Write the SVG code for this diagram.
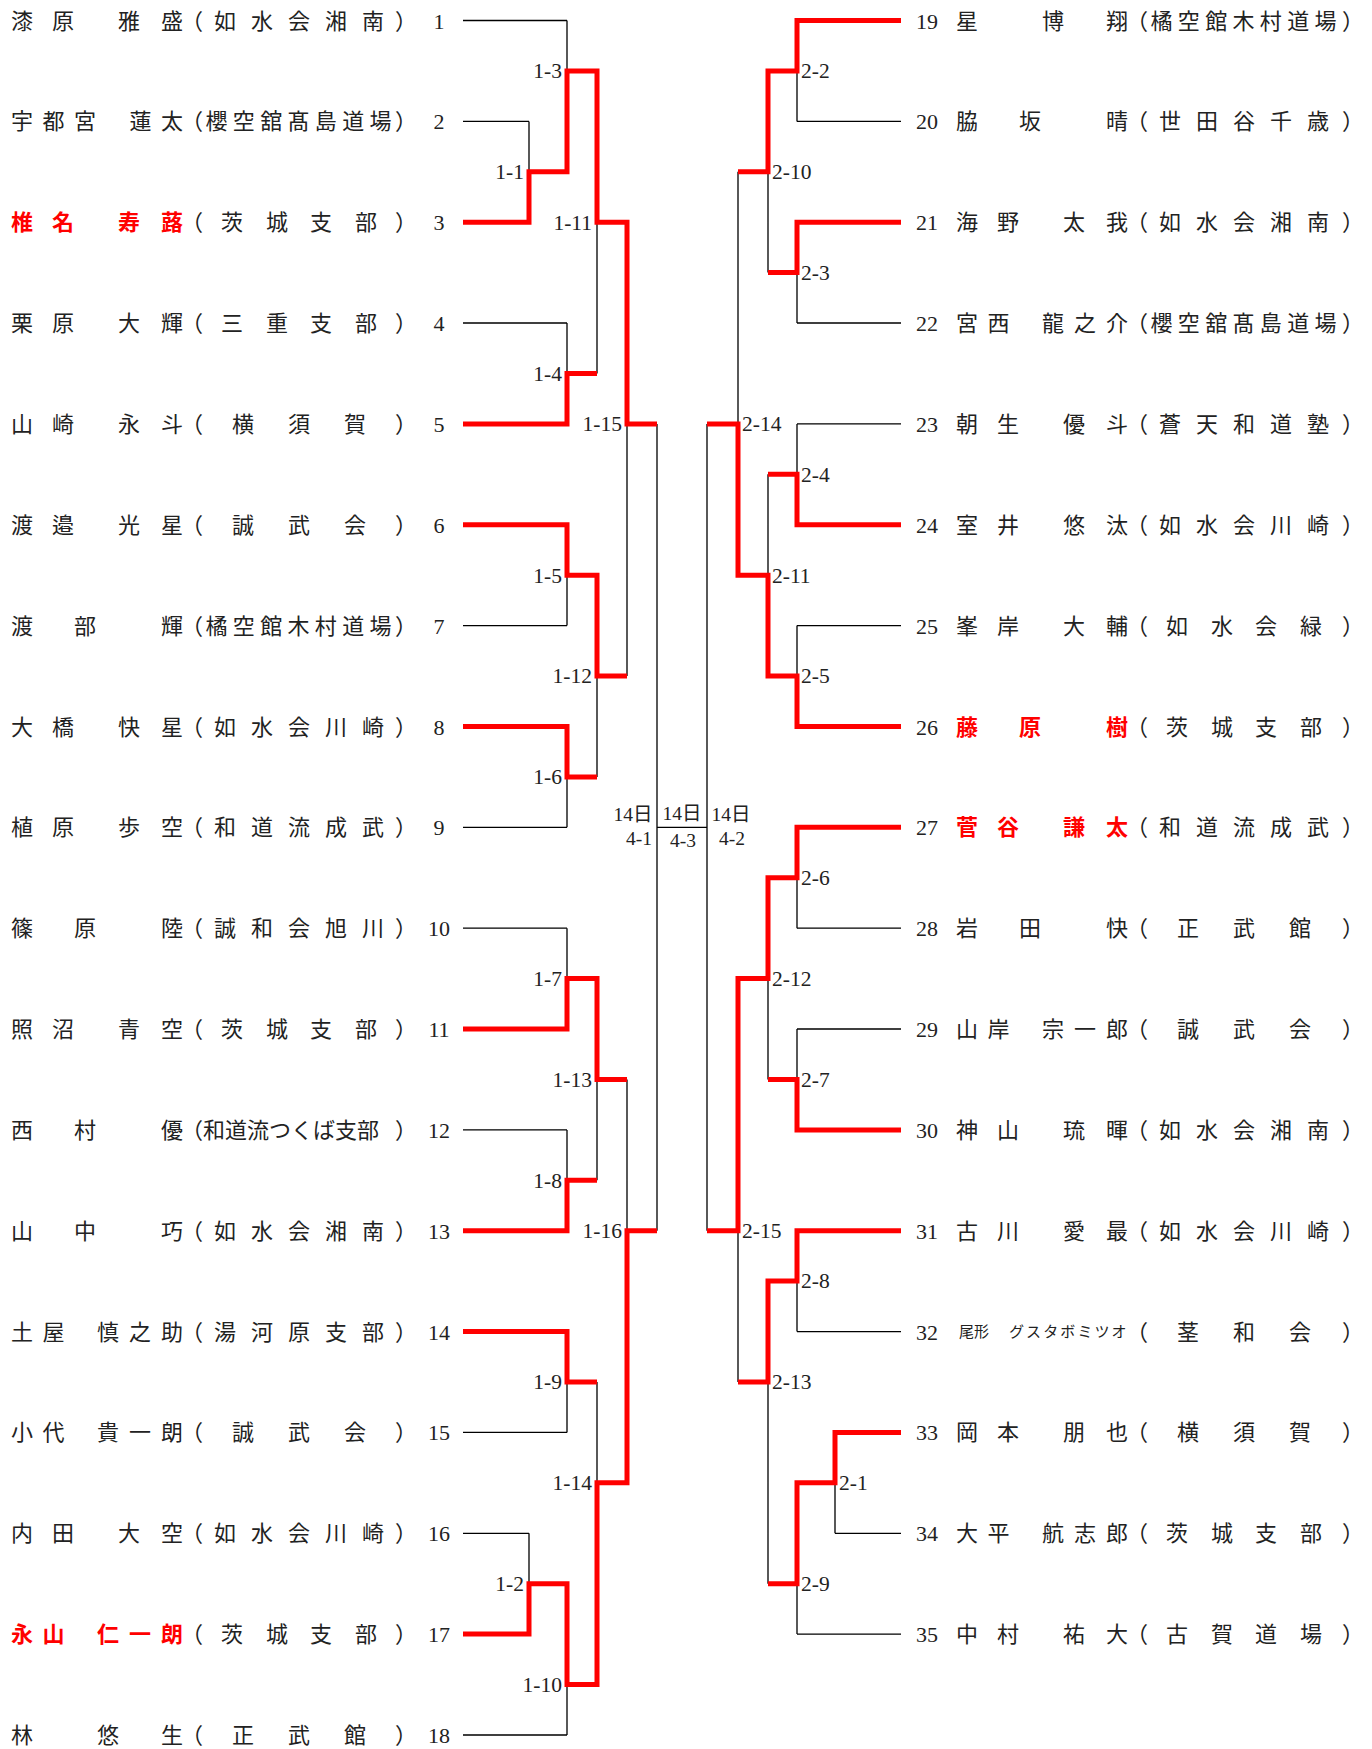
<svg xmlns="http://www.w3.org/2000/svg" width="1372" height="1749" viewBox="0 0 1372 1749">
<style>
text{font-family:"Liberation Serif","Noto Sans CJK JP",serif;fill:#222}
.t{font-size:22px;text-anchor:middle}
.w{fill:#f00;font-weight:bold}
.lb{font-size:21.5px}
.l{text-anchor:end}
.r{text-anchor:start}
.c{font-size:19.5px;text-anchor:middle}
.k{fill:none;stroke:#000;stroke-width:1.3}
.red{fill:none;stroke:#f00;stroke-width:5;stroke-linejoin:miter}
</style>
<rect width="1372" height="1749" fill="#fff"/>
<g id="connectors">
<g class="k">
<path d="M463,20.5H567M463,121.4H529M463,222.2H529M463,323H567M463,423.9H567M463,524.8H567M463,625.6H567M463,726.5H567M463,827.3H567M463,928.2H567M463,1029H567M463,1129.9H567M463,1230.7H567M463,1331.6H567M463,1432.4H567M463,1533.3H529M463,1634.1H529M463,1735H567"/>
<path d="M529,121.4V222.2M529,171.8H567M567,20.5V171.8M567,70.9H597M567,323V423.9M567,373.5H597M597,70.9V373.5M597,222.2H627M567,524.8V625.6M567,575.2H597M567,726.5V827.3M567,776.9H597M597,575.2V776.9M597,676H627M627,222.2V676M627,423.9H657"/>
<path d="M567,928.2V1029M567,978.6H597M567,1129.9V1230.7M567,1180.3H597M597,978.6V1180.3M597,1079.4H627M567,1331.6V1432.4M567,1382H597M529,1533.3V1634.1M529,1583.7H567M567,1583.7V1735M567,1684.5H597M597,1382V1684.5M597,1482.8H627M627,1079.4V1482.8M627,1230.7H657"/>
<path d="M657,423.9V1230.7M657,827.3H707M707,423.9V1230.7"/>
<path d="M901,20.5H797M901,121.4H797M901,222.2H797M901,323H797M901,423.9H797M901,524.8H797M901,625.6H797M901,726.5H797M901,827.3H797M901,928.2H797M901,1029H797M901,1129.9H797M901,1230.7H797M901,1331.6H797M901,1432.4H835M901,1533.3H835M901,1634.1H797"/>
<path d="M797,20.5V121.4M797,70.9H768M797,222.2V323M797,272.6H768M768,70.9V272.6M768,171.8H738M797,423.9V524.8M797,474.3H768M797,625.6V726.5M797,676H768M768,474.3V676M768,575.2H738M738,171.8V575.2M738,423.9H707"/>
<path d="M797,827.3V928.2M797,877.7H768M797,1029V1129.9M797,1079.4H768M768,877.7V1079.4M768,978.6H738M797,1230.7V1331.6M797,1281.1H768M835,1432.4V1533.3M835,1482.8H797M797,1482.8V1634.1M797,1583.7H768M768,1281.1V1583.7M768,1382H738M738,978.6V1382M738,1230.7H707"/>
</g>
<g class="red">
<path d="M463,222.2H529V171.8H567V70.9H597V222.2H627V423.9H657"/>
<path d="M463,423.9H567V373.5H597"/>
<path d="M463,524.8H567V575.2H597V676H627"/>
<path d="M463,726.5H567V776.9H597"/>
<path d="M463,1029H567V978.6H597V1079.4H627"/>
<path d="M463,1230.7H567V1180.3H597"/>
<path d="M463,1331.6H567V1382H597"/>
<path d="M463,1634.1H529V1583.7H567V1684.5H597V1482.8H627V1230.7H657"/>
<path d="M901,20.5H797V70.9H768V171.8H738"/>
<path d="M901,222.2H797V272.6H768"/>
<path d="M901,524.8H797V474.3H768"/>
<path d="M901,726.5H797V676H768V575.2H738V423.9H707"/>
<path d="M901,827.3H797V877.7H768V978.6H738V1230.7H707"/>
<path d="M901,1129.9H797V1079.4H768"/>
<path d="M901,1230.7H797V1281.1H768V1382H738"/>
<path d="M901,1432.4H835V1482.8H797V1583.7H768"/>
</g>
<g class="lb">
<text class="l" x="562" y="78">1-3</text>
<text class="l" x="524" y="179">1-1</text>
<text class="l" x="592" y="229.5">1-11</text>
<text class="l" x="562" y="380.7">1-4</text>
<text class="l" x="622" y="431.2">1-15</text>
<text class="l" x="562" y="582.5">1-5</text>
<text class="l" x="592" y="683.2">1-12</text>
<text class="l" x="562" y="784.2">1-6</text>
<text class="l" x="562" y="985.9">1-7</text>
<text class="l" x="592" y="1086.7">1-13</text>
<text class="l" x="562" y="1187.6">1-8</text>
<text class="l" x="622" y="1238">1-16</text>
<text class="l" x="562" y="1389.3">1-9</text>
<text class="l" x="592" y="1490.1">1-14</text>
<text class="l" x="524" y="1591">1-2</text>
<text class="l" x="562" y="1691.8">1-10</text>
<text class="r" x="801" y="78">2-2</text>
<text class="r" x="772" y="179">2-10</text>
<text class="r" x="801" y="279.9">2-3</text>
<text class="r" x="742" y="431.2">2-14</text>
<text class="r" x="801" y="481.6">2-4</text>
<text class="r" x="772" y="582.5">2-11</text>
<text class="r" x="801" y="683.2">2-5</text>
<text class="r" x="801" y="885">2-6</text>
<text class="r" x="772" y="985.9">2-12</text>
<text class="r" x="801" y="1086.7">2-7</text>
<text class="r" x="742" y="1238">2-15</text>
<text class="r" x="801" y="1288.4">2-8</text>
<text class="r" x="772" y="1389.3">2-13</text>
<text class="r" x="839" y="1490.1">2-1</text>
<text class="r" x="801" y="1591">2-9</text>
</g>
<g id="final">
<text class="c" x="633" y="821">14日</text>
<text class="c" x="639" y="845">4-1</text>
<text class="c" x="682" y="820">14日</text>
<text class="c" x="683" y="847">4-3</text>
<text class="c" x="731" y="821">14日</text>
<text class="c" x="732" y="845">4-2</text>
</g>
</g>
<g id="p1"><text class="t" x="22 63 129 172" y="28.5">漆原雅盛</text><text class="t" x="192 225 262 299 336 373 406" y="28.5">（如水会湘南）</text><text class="t" x="439" y="28.5">1</text></g>
<g id="p2"><text class="t" x="22 53.5 85 140.5 172" y="129.4">宇都宮蓮太</text><text class="t" x="192 216.5 243.8 271.2 298.5 325.8 353.2 380.5 406" y="129.4">（櫻空舘髙島道場）</text><text class="t" x="439" y="129.4">2</text></g>
<g id="p3"><text class="t w" x="22 63 129 172" y="230.2">椎名寿蕗</text><text class="t" x="192 232 277 321 366 406" y="230.2">（茨城支部）</text><text class="t" x="439" y="230.2">3</text></g>
<g id="p4"><text class="t" x="22 63 129 172" y="331.1">栗原大輝</text><text class="t" x="192 232 277 321 366 406" y="331.1">（三重支部）</text><text class="t" x="439" y="331.1">4</text></g>
<g id="p5"><text class="t" x="22 63 129 172" y="431.9">山崎永斗</text><text class="t" x="192 243 299 355 406" y="431.9">（横須賀）</text><text class="t" x="439" y="431.9">5</text></g>
<g id="p6"><text class="t" x="22 63 129 172" y="532.8">渡邉光星</text><text class="t" x="192 243 299 355 406" y="532.8">（誠武会）</text><text class="t" x="439" y="532.8">6</text></g>
<g id="p7"><text class="t" x="22 85 172" y="633.6">渡部輝</text><text class="t" x="192 216.5 243.8 271.2 298.5 325.8 353.2 380.5 406" y="633.6">（橘空館木村道場）</text><text class="t" x="439" y="633.6">7</text></g>
<g id="p8"><text class="t" x="22 63 129 172" y="734.5">大橋快星</text><text class="t" x="192 225 262 299 336 373 406" y="734.5">（如水会川崎）</text><text class="t" x="439" y="734.5">8</text></g>
<g id="p9"><text class="t" x="22 63 129 172" y="835.3">植原歩空</text><text class="t" x="192 225 262 299 336 373 406" y="835.3">（和道流成武）</text><text class="t" x="439" y="835.3">9</text></g>
<g id="p10"><text class="t" x="22 85 172" y="936.2">篠原陸</text><text class="t" x="192 225 262 299 336 373 406" y="936.2">（誠和会旭川）</text><text class="t" x="439" y="936.2">10</text></g>
<g id="p11"><text class="t" x="22 63 129 172" y="1037">照沼青空</text><text class="t" x="192 232 277 321 366 406" y="1037">（茨城支部）</text><text class="t" x="439" y="1037">11</text></g>
<g id="p12"><text class="t" x="22 85 172" y="1137.9">西村優</text><text class="t" x="192 214 236 258 280 302 324 346 368 406" y="1137.9">（和道流つくば支部）</text><text class="t" x="439" y="1137.9">12</text></g>
<g id="p13"><text class="t" x="22 85 172" y="1238.7">山中巧</text><text class="t" x="192 225 262 299 336 373 406" y="1238.7">（如水会湘南）</text><text class="t" x="439" y="1238.7">13</text></g>
<g id="p14"><text class="t" x="22 53.5 108 140 172" y="1339.6">土屋慎之助</text><text class="t" x="192 225 262 299 336 373 406" y="1339.6">（湯河原支部）</text><text class="t" x="439" y="1339.6">14</text></g>
<g id="p15"><text class="t" x="22 53.5 108 140 172" y="1440.4">小代貴一朗</text><text class="t" x="192 243 299 355 406" y="1440.4">（誠武会）</text><text class="t" x="439" y="1440.4">15</text></g>
<g id="p16"><text class="t" x="22 63 129 172" y="1541.3">内田大空</text><text class="t" x="192 225 262 299 336 373 406" y="1541.3">（如水会川崎）</text><text class="t" x="439" y="1541.3">16</text></g>
<g id="p17"><text class="t w" x="22 53.5 108 140 172" y="1642.1">永山仁一朗</text><text class="t" x="192 232 277 321 366 406" y="1642.1">（茨城支部）</text><text class="t" x="439" y="1642.1">17</text></g>
<g id="p18"><text class="t" x="22 108 172" y="1743">林悠生</text><text class="t" x="192 243 299 355 406" y="1743">（正武館）</text><text class="t" x="439" y="1743">18</text></g>
<g id="p19"><text class="t" x="927" y="28.5">19</text><text class="t" x="967 1053 1117" y="28.5">星博翔</text><text class="t" x="1137 1161.5 1188.8 1216.2 1243.5 1270.8 1298.2 1325.5 1353" y="28.5">（橘空館木村道場）</text></g>
<g id="p20"><text class="t" x="927" y="129.4">20</text><text class="t" x="967 1030 1117" y="129.4">脇坂晴</text><text class="t" x="1137 1170 1207 1244 1281 1318 1353" y="129.4">（世田谷千歳）</text></g>
<g id="p21"><text class="t" x="927" y="230.2">21</text><text class="t" x="967 1008 1074 1117" y="230.2">海野太我</text><text class="t" x="1137 1170 1207 1244 1281 1318 1353" y="230.2">（如水会湘南）</text></g>
<g id="p22"><text class="t" x="927" y="331.1">22</text><text class="t" x="967 998.5 1053 1085 1117" y="331.1">宮西龍之介</text><text class="t" x="1137 1161.5 1188.8 1216.2 1243.5 1270.8 1298.2 1325.5 1353" y="331.1">（櫻空舘髙島道場）</text></g>
<g id="p23"><text class="t" x="927" y="431.9">23</text><text class="t" x="967 1008 1074 1117" y="431.9">朝生優斗</text><text class="t" x="1137 1170 1207 1244 1281 1318 1353" y="431.9">（蒼天和道塾）</text></g>
<g id="p24"><text class="t" x="927" y="532.8">24</text><text class="t" x="967 1008 1074 1117" y="532.8">室井悠汰</text><text class="t" x="1137 1170 1207 1244 1281 1318 1353" y="532.8">（如水会川崎）</text></g>
<g id="p25"><text class="t" x="927" y="633.6">25</text><text class="t" x="967 1008 1074 1117" y="633.6">峯岸大輔</text><text class="t" x="1137 1177 1222 1266 1311 1353" y="633.6">（如水会緑）</text></g>
<g id="p26"><text class="t" x="927" y="734.5">26</text><text class="t w" x="967 1030 1117" y="734.5">藤原樹</text><text class="t" x="1137 1177 1222 1266 1311 1353" y="734.5">（茨城支部）</text></g>
<g id="p27"><text class="t" x="927" y="835.3">27</text><text class="t w" x="967 1008 1074 1117" y="835.3">菅谷謙太</text><text class="t" x="1137 1170 1207 1244 1281 1318 1353" y="835.3">（和道流成武）</text></g>
<g id="p28"><text class="t" x="927" y="936.2">28</text><text class="t" x="967 1030 1117" y="936.2">岩田快</text><text class="t" x="1137 1188 1244 1300 1353" y="936.2">（正武館）</text></g>
<g id="p29"><text class="t" x="927" y="1037">29</text><text class="t" x="967 998.5 1053 1085 1117" y="1037">山岸宗一郎</text><text class="t" x="1137 1188 1244 1300 1353" y="1037">（誠武会）</text></g>
<g id="p30"><text class="t" x="927" y="1137.9">30</text><text class="t" x="967 1008 1074 1117" y="1137.9">神山琉暉</text><text class="t" x="1137 1170 1207 1244 1281 1318 1353" y="1137.9">（如水会湘南）</text></g>
<g id="p31"><text class="t" x="927" y="1238.7">31</text><text class="t" x="967 1008 1074 1117" y="1238.7">古川愛最</text><text class="t" x="1137 1170 1207 1244 1281 1318 1353" y="1238.7">（如水会川崎）</text></g>
<g id="p32"><text class="t" x="927" y="1339.6">32</text><text x="959" y="1337" font-size="15">尾形</text><text x="1009" y="1337" font-size="15" letter-spacing="2.1">グスタボミツオ</text><text class="t" x="1137 1188 1244 1300 1353" y="1339.6">（茎和会）</text></g>
<g id="p33"><text class="t" x="927" y="1440.4">33</text><text class="t" x="967 1008 1074 1117" y="1440.4">岡本朋也</text><text class="t" x="1137 1188 1244 1300 1353" y="1440.4">（横須賀）</text></g>
<g id="p34"><text class="t" x="927" y="1541.3">34</text><text class="t" x="967 998.5 1053 1085 1117" y="1541.3">大平航志郎</text><text class="t" x="1137 1177 1222 1266 1311 1353" y="1541.3">（茨城支部）</text></g>
<g id="p35"><text class="t" x="927" y="1642.1">35</text><text class="t" x="967 1008 1074 1117" y="1642.1">中村祐大</text><text class="t" x="1137 1177 1222 1266 1311 1353" y="1642.1">（古賀道場）</text></g>
</svg>
